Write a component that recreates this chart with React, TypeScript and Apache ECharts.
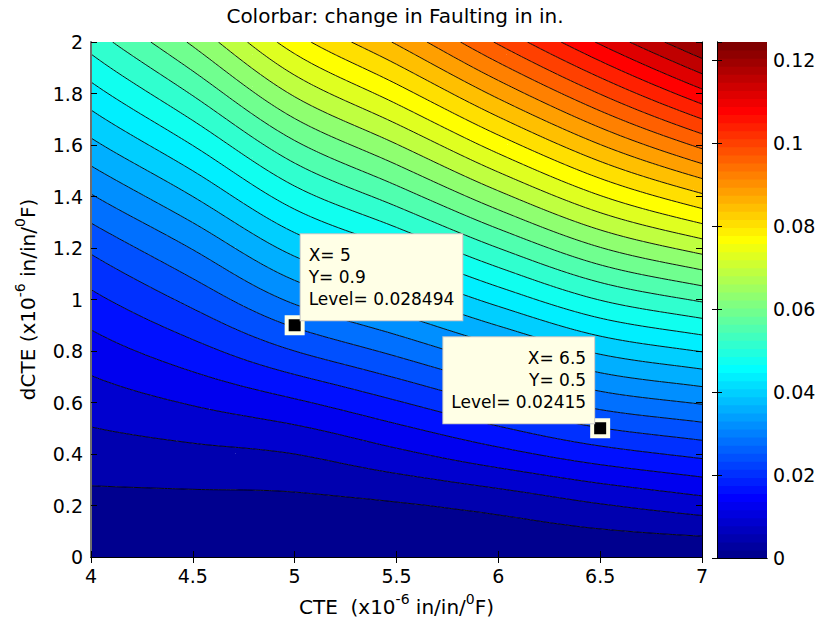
import React, { useEffect, useRef } from "react";
import * as echarts from "echarts";

// ---------------- data ----------------
// CTE (x10^-6 in/in/F) grid columns and dCTE rows
const CTE_VALUES = [4, 4.5, 5, 5.5, 6, 6.5, 7];
const DCTE_VALUES = [0, 0.2, 0.4, 0.6, 0.8, 1.0, 1.2, 1.4, 1.6, 1.8, 2.0];

// change in faulting (in.) along each dCTE row, one value per CTE column
const FAULT_DCTE_00 = [0, 0, 0, 0, 0, 0, 0];
const FAULT_DCTE_02 = [0.0028, 0.00284, 0.00288, 0.0036, 0.0052, 0.00768, 0.01];
const FAULT_DCTE_04 = [0.00608, 0.00696, 0.008, 0.01108, 0.01468, 0.01828, 0.021];
const FAULT_DCTE_06 = [0.00984, 0.01236, 0.0154, 0.01964, 0.0246, 0.02956, 0.0324];
const FAULT_DCTE_08 = [0.01408, 0.01856, 0.024, 0.029, 0.03488, 0.04072, 0.0442];
const FAULT_DCTE_10 = [0.01896, 0.0252, 0.0328, 0.0386, 0.0454, 0.05216, 0.0566];
const FAULT_DCTE_12 = [0.02476, 0.03224, 0.0414, 0.04812, 0.056, 0.06384, 0.0696];
const FAULT_DCTE_14 = [0.03164, 0.04, 0.0502, 0.05788, 0.0668, 0.07576, 0.0832];
const FAULT_DCTE_16 = [0.039, 0.04808, 0.0592, 0.0678, 0.07784, 0.08788, 0.097];
const FAULT_DCTE_18 = [0.04636, 0.05636, 0.0686, 0.07808, 0.08912, 0.10016, 0.1108];
const FAULT_DCTE_20 = [0.05372, 0.06472, 0.0782, 0.08852, 0.10056, 0.1126, 0.1243];
const FAULT_ROWS = [
  FAULT_DCTE_00, FAULT_DCTE_02, FAULT_DCTE_04, FAULT_DCTE_06, FAULT_DCTE_08, FAULT_DCTE_10,
  FAULT_DCTE_12, FAULT_DCTE_14, FAULT_DCTE_16, FAULT_DCTE_18, FAULT_DCTE_20,
];

// contour level spacing (in.)
const LEVEL_STEP = 0.004;

// axis ranges / tick steps
const X_MIN = 4, X_MAX = 7, X_STEP = 0.5;
const Y_MIN = 0, Y_MAX = 2, Y_STEP = 0.2;
const BAR_STEP = 0.02;

// data tips
const TIP_CTE = [5, 6.5];
const TIP_DCTE = [0.9, 0.5];
const TIP_LEVEL = ["0.028494", "0.02415"];

const TITLE = "Colorbar: change in Faulting in in.";

// ---------------- derived ----------------
const ALL_VALUES = FAULT_ROWS.flat();
const CMIN = Math.min(...ALL_VALUES);
const CMAX = Math.max(...ALL_VALUES);
const LEVELS: number[] = [];
for (let k = 1; k * LEVEL_STEP <= CMAX + 1e-12; k++) LEVELS.push(+(k * LEVEL_STEP).toFixed(6));

const FONT = "DejaVu Sans";

// MATLAB jet(64)
function jet(i: number): string {
  const u = (k: number) => (k < 1 || k > 47 ? 0 : k <= 16 ? k / 16 : k <= 31 ? 1 : (48 - k) / 16);
  const r = u(i - 24), g = u(i - 8), b = u(i + 8);
  return `rgb(${Math.round(r * 255)},${Math.round(g * 255)},${Math.round(b * 255)})`;
}
function colorOfValue(v: number): string {
  const idx = Math.max(1, Math.min(64, Math.floor(((v - CMIN) / (CMAX - CMIN)) * 64) + 1));
  return jet(idx);
}
const BAND_COLORS = [CMIN, ...LEVELS].map(colorOfValue);

type P = [number, number, number];

function clipPoly(poly: P[], level: number, keepAbove: boolean): P[] {
  const out: P[] = [];
  for (let i = 0; i < poly.length; i++) {
    const a = poly[i], b = poly[(i + 1) % poly.length];
    const ina = keepAbove ? a[2] >= level : a[2] <= level;
    const inb = keepAbove ? b[2] >= level : b[2] <= level;
    if (ina) out.push(a);
    if (ina !== inb) {
      const t = (level - a[2]) / (b[2] - a[2]);
      out.push([a[0] + t * (b[0] - a[0]), a[1] + t * (b[1] - a[1]), level]);
    }
  }
  return out;
}

const f2 = (n: number) => n.toFixed(2);

function renderContour(_params: any, api: any) {
  const nx = CTE_VALUES.length, ny = DCTE_VALUES.length;
  const zAt = (i: number, j: number): number => {
    if (i < 0) return 2 * zAt(0, j) - zAt(1, j);
    if (i > nx - 1) return 2 * zAt(nx - 1, j) - zAt(nx - 2, j);
    if (j < 0) return 2 * zAt(i, 0) - zAt(i, 1);
    if (j > ny - 1) return 2 * zAt(i, ny - 1) - zAt(i, ny - 2);
    return FAULT_ROWS[j][i];
  };
  const cr = (p0: number, p1: number, p2: number, p3: number, t: number) =>
    0.5 * (2 * p1 + (-p0 + p2) * t + (2 * p0 - 5 * p1 + 4 * p2 - p3) * t * t + (-p0 + 3 * p1 - 3 * p2 + p3) * t * t * t);
  const sample = (u: number, v: number) => {
    const i = Math.min(Math.floor(u), nx - 2), t = u - i;
    const j = Math.min(Math.floor(v), ny - 2), s = v - j;
    const col: number[] = [];
    for (let dj = -1; dj <= 2; dj++) col.push(cr(zAt(i - 1, j + dj), zAt(i, j + dj), zAt(i + 1, j + dj), zAt(i + 2, j + dj), t));
    return cr(col[0], col[1], col[2], col[3], s);
  };
  const SUB_X = 12, SUB_Y = 8;
  const nxF = (nx - 1) * SUB_X + 1, nyF = (ny - 1) * SUB_Y + 1;
  const X: number[] = [], Y: number[] = [];
  for (let a = 0; a < nxF; a++) {
    const u = a / SUB_X, i = Math.min(Math.floor(u), nx - 2);
    const xd = CTE_VALUES[i] + (u - i) * (CTE_VALUES[i + 1] - CTE_VALUES[i]);
    X.push(api.coord([xd, DCTE_VALUES[0]])[0]);
  }
  for (let b = 0; b < nyF; b++) {
    const v = b / SUB_Y, j = Math.min(Math.floor(v), ny - 2);
    const yd = DCTE_VALUES[j] + (v - j) * (DCTE_VALUES[j + 1] - DCTE_VALUES[j]);
    Y.push(api.coord([CTE_VALUES[0], yd])[1]);
  }
  const V: number[][] = [];
  for (let b = 0; b < nyF; b++) {
    const row: number[] = [];
    for (let a = 0; a < nxF; a++) row.push(sample(a / SUB_X, b / SUB_Y));
    V.push(row);
  }
  const nL = LEVELS.length;
  const bandOf = (v: number) => {
    let k = 0;
    while (k < nL && v >= LEVELS[k]) k++;
    return k;
  };
  const bandD: string[][] = BAND_COLORS.map(() => []);
  const lineD: string[][] = LEVELS.map(() => []);

  const addPoly = (k: number, poly: P[]) => {
    if (poly.length < 3) return;
    let d = "M" + f2(poly[0][0]) + " " + f2(poly[0][1]);
    for (let i = 1; i < poly.length; i++) d += "L" + f2(poly[i][0]) + " " + f2(poly[i][1]);
    bandD[k].push(d + "Z");
  };
  const doTri = (tri: P[]) => {
    const vs = tri.map((p) => p[2]);
    const kMin = bandOf(Math.min(...vs)), kMax = bandOf(Math.max(...vs));
    for (let k = kMin; k <= kMax; k++) {
      let poly: P[] = tri;
      if (k > 0) poly = clipPoly(poly, LEVELS[k - 1], true);
      if (k < nL && poly.length) poly = clipPoly(poly, LEVELS[k], false);
      addPoly(k, poly);
    }
    for (let m = kMin; m < kMax; m++) {
      const L = LEVELS[m];
      const pts: number[][] = [];
      for (let e = 0; e < 3; e++) {
        const p = tri[e], q = tri[(e + 1) % 3];
        if ((p[2] < L) !== (q[2] < L)) {
          const t = (L - p[2]) / (q[2] - p[2]);
          pts.push([p[0] + t * (q[0] - p[0]), p[1] + t * (q[1] - p[1])]);
        }
      }
      if (pts.length >= 2) lineD[m].push("M" + f2(pts[0][0]) + " " + f2(pts[0][1]) + "L" + f2(pts[1][0]) + " " + f2(pts[1][1]));
    }
  };

  for (let b = 0; b < nyF - 1; b++) {
    let runBand = -1, runStart = 0;
    const flush = (endA: number) => {
      if (runBand < 0) return;
      const x0 = X[runStart], x1 = X[endA], y0 = Y[b], y1 = Y[b + 1];
      bandD[runBand].push(`M${f2(x0)} ${f2(y0)}L${f2(x1)} ${f2(y0)}L${f2(x1)} ${f2(y1)}L${f2(x0)} ${f2(y1)}Z`);
      runBand = -1;
    };
    for (let a = 0; a < nxF - 1; a++) {
      const v00 = V[b][a], v10 = V[b][a + 1], v01 = V[b + 1][a], v11 = V[b + 1][a + 1];
      const k0 = bandOf(v00);
      const uniform = bandOf(v10) === k0 && bandOf(v01) === k0 && bandOf(v11) === k0;
      if (uniform) {
        if (runBand !== k0) {
          flush(a);
          runBand = k0;
          runStart = a;
        }
      } else {
        flush(a);
        const p00: P = [X[a], Y[b], v00], p10: P = [X[a + 1], Y[b], v10];
        const p01: P = [X[a], Y[b + 1], v01], p11: P = [X[a + 1], Y[b + 1], v11];
        doTri([p00, p10, p11]);
        doTri([p00, p11, p01]);
      }
    }
    flush(nxF - 1);
  }

  const children: any[] = [];
  bandD.forEach((parts, k) => {
    if (parts.length) children.push({ type: "path", shape: { pathData: parts.join("") }, style: { fill: BAND_COLORS[k], stroke: null } });
  });
  lineD.forEach((parts) => {
    if (parts.length)
      children.push({ type: "path", shape: { pathData: parts.join("") }, style: { fill: null, stroke: "#000", lineWidth: 1, opacity: 0.9 } });
  });
  return { type: "group", children };
}

function renderBar(_params: any, api: any) {
  const i = api.value(1);
  const y0 = CMIN + ((CMAX - CMIN) * i) / 64, y1 = CMIN + ((CMAX - CMIN) * (i + 1)) / 64;
  const p0 = api.coord([0, y0]), p1 = api.coord([1, y1]);
  return {
    type: "rect",
    shape: { x: p0[0], y: p1[1] - 0.5, width: p1[0] - p0[0], height: p0[1] - p1[1] + 1 },
    style: { fill: jet(i + 1) },
  };
}

const labelStyle = { fontFamily: FONT, fontSize: 19, color: "#000" };
const axisLineStyle = { lineStyle: { color: "#000", width: 1 } };
const tickIn = { inside: true, length: 6, lineStyle: { color: "#000", width: 1 } };
const nameRich = {
  n: { fontFamily: FONT, fontSize: 20, color: "#000", lineHeight: 30, verticalAlign: "middle" },
  s: { fontFamily: FONT, fontSize: 14, color: "#000", lineHeight: 30, verticalAlign: "top" },
};

function buildOption(): any {
  return {
    animation: false,
    backgroundColor: "#fff",
    graphic: [
      {
        type: "text",
        x: 395,
        y: 6,
        style: {
          text: TITLE,
          fontFamily: FONT,
          fontSize: 20,
          fill: "#000",
          textAlign: "center",
          align: "center",
          textVerticalAlign: "top",
          verticalAlign: "top",
        },
      },
    ],
    grid: [
      { left: 91, top: 42, width: 611, height: 516 },
      { left: 717, top: 42, width: 50, height: 516 },
    ],
    xAxis: [
      {
        gridIndex: 0, type: "value", min: X_MIN, max: X_MAX, interval: X_STEP, position: "bottom", z: 10,
        axisLine: axisLineStyle, axisTick: tickIn, splitLine: { show: false },
        axisLabel: { ...labelStyle, margin: 9 },
        name: "{n|CTE  (x10}{s|-6}{n| in/in/}{s|0}{n|F)}",
        nameLocation: "middle", nameGap: 35,
        nameTextStyle: { rich: nameRich },
      },
      {
        gridIndex: 0, type: "value", min: X_MIN, max: X_MAX, interval: X_STEP, position: "top", z: 10,
        axisLine: axisLineStyle, axisTick: tickIn, splitLine: { show: false }, axisLabel: { show: false },
      },
      {
        gridIndex: 1, type: "value", min: 0, max: 1, position: "bottom", z: 10,
        axisLine: axisLineStyle, axisTick: { show: false }, splitLine: { show: false }, axisLabel: { show: false },
      },
      {
        gridIndex: 1, type: "value", min: 0, max: 1, position: "top", z: 10,
        axisLine: axisLineStyle, axisTick: { show: false }, splitLine: { show: false }, axisLabel: { show: false },
      },
    ],
    yAxis: [
      {
        gridIndex: 0, type: "value", min: Y_MIN, max: Y_MAX, interval: Y_STEP, position: "left", z: 10,
        axisLine: { lineStyle: { color: "#6e6e6e", width: 2 } }, axisTick: tickIn, splitLine: { show: false },
        axisLabel: { ...labelStyle, margin: 8 },
        name: "{n|dCTE (x10}{s|-6}{n| in/in/}{s|0}{n|F)}",
        nameLocation: "middle", nameGap: 48,
        nameTextStyle: { rich: nameRich },
      },
      {
        gridIndex: 0, type: "value", min: Y_MIN, max: Y_MAX, interval: Y_STEP, position: "right", z: 10,
        axisLine: axisLineStyle, axisTick: tickIn, splitLine: { show: false }, axisLabel: { show: false },
      },
      {
        gridIndex: 1, type: "value", min: CMIN, max: CMAX, interval: BAR_STEP, position: "right", z: 10,
        axisLine: axisLineStyle, axisTick: { ...tickIn, length: 5 }, splitLine: { show: false },
        axisLabel: { ...labelStyle, margin: 6, showMaxLabel: false },
      },
      {
        gridIndex: 1, type: "value", min: CMIN, max: CMAX, interval: BAR_STEP, position: "left", z: 10,
        axisLine: axisLineStyle, axisTick: { ...tickIn, length: 5 }, splitLine: { show: false }, axisLabel: { show: false },
      },
    ],
    series: [
      {
        type: "custom",
        xAxisIndex: 0,
        yAxisIndex: 0,
        clip: true,
        silent: true,
        z: 1,
        renderItem: renderContour,
        data: [[X_MIN, Y_MIN]],
      },
      {
        type: "custom",
        xAxisIndex: 2,
        yAxisIndex: 2,
        clip: true,
        silent: true,
        z: 1,
        renderItem: renderBar,
        data: Array.from({ length: 64 }, (_, i) => [0, i]),
      },
      {
        type: "scatter",
        xAxisIndex: 0,
        yAxisIndex: 0,
        silent: true,
        z: 5,
        symbol: "rect",
        symbolSize: 16,
        itemStyle: { color: "#000", borderColor: "#FFFFE6", borderWidth: 4, opacity: 1 },
        label: {
          show: true,
          fontFamily: FONT,
          fontSize: 17,
          color: "#000",
          opacity: 1,
          lineHeight: 22,
          backgroundColor: "#FFFFE6",
          borderColor: "#c8c8c8",
          borderWidth: 1,
          padding: [10, 8, 10, 8],
          verticalAlign: "top",
        },
        data: TIP_CTE.map((x, i) => ({
          value: [x, TIP_DCTE[i]],
          label: {
            formatter: `X= ${x}\nY= ${TIP_DCTE[i]}\nLevel= ${TIP_LEVEL[i]}`,
            position: i === 0 ? [16, -81] : [4, -81],
            align: i === 0 ? "left" : "right",
          },
        })),
      },
    ],
  };
}

export default function App() {
  const ref = useRef<HTMLDivElement>(null);
  useEffect(() => {
    if (!ref.current) return;
    const chart = echarts.init(ref.current, undefined, { renderer: "svg" });
    chart.setOption(buildOption());
    return () => chart.dispose();
  }, []);
  return (
    <div
      ref={ref}
      style={{ position: "fixed", left: 0, top: 0, width: 820, height: 622, background: "#fff" }}
    />
  );
}
